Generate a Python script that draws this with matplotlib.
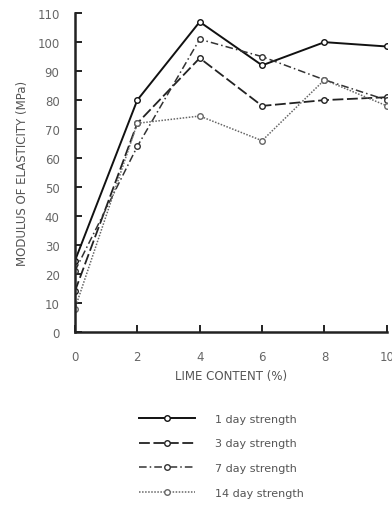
import matplotlib
matplotlib.use('Agg')
import matplotlib.pyplot as plt

lime = [0, 2, 4, 6, 8, 10]

day1 = [24.5, 80, 107, 92, 100, 98.5]
day3 = [14, 72, 94.5, 78, 80, 81]
day7 = [21, 64, 101, 95, 87, 80]
day14 = [8, 72, 74.5, 66, 87, 78]

labels = ['1 day strength', '3 day strength', '7 day strength', '14 day strength']

plt.rcParams['font.family'] = 'DejaVu Sans'

fig = plt.figure(figsize=(3.92, 5.06), dpi=100)
ax = fig.add_axes([0.191, 0.342, 0.796, 0.630])

marker_kw = dict(marker='o', markersize=4, markerfacecolor='white',
                 markeredgewidth=1.0)
ax.plot(lime, day1, color='#111111', linestyle='-', linewidth=1.4,
        label=labels[0], **marker_kw)
ax.plot(lime, day3, color='#222222', linestyle=(0, (6, 2)), linewidth=1.3,
        label=labels[1], **marker_kw)
ax.plot(lime, day7, color='#333333', linestyle=(0, (5, 2, 1, 2)),
        linewidth=1.1, label=labels[2], **marker_kw)
ax.plot(lime, day14, color='#666666', linestyle=(0, (1, 1)), linewidth=1.1,
        label=labels[3], **marker_kw)

ax.set_xlim(0, 10)
ax.set_ylim(0, 110)
ax.set_xticks(lime)
ax.set_yticks(range(0, 111, 10))

for side in ['top', 'right']:
    ax.spines[side].set_visible(False)
for side in ['left', 'bottom']:
    ax.spines[side].set_linewidth(1.8)
    ax.spines[side].set_color('#222222')

ax.tick_params(direction='in', length=5, width=1.4, colors='#222222',
               labelcolor='#666666', labelsize=8.5)
ax.tick_params(axis='y', pad=11)
ax.tick_params(axis='x', pad=13)

ax.set_xlabel('LIME CONTENT (%)', fontsize=8.5, color='#555555', labelpad=4)
ax.set_ylabel('MODULUS OF ELASTICITY (MPa)', fontsize=8.5, color='#555555',
              labelpad=6)

fig.legend(loc='upper left', bbox_to_anchor=(0.33, 0.2), frameon=False,
           fontsize=8, labelcolor='#555555', handlelength=5.0,
           labelspacing=1.32, handletextpad=1.8)

fig.savefig('out.png', dpi=100)
